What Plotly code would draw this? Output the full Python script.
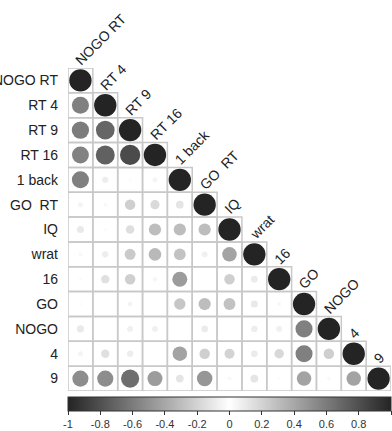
import plotly.graph_objects as go
import numpy as np

labels = ["NOGO RT", "RT 4", "RT 9", "RT 16", "1 back", "GO  RT", "IQ",
          "wrat", "16", "GO", "NOGO", "4", "9"]

# lower-triangle correlations (row i, columns 1..i-1); diagonal = 1
r_rt4 = [0.58]
r_rt9 = [0.60, 0.70]
r_rt16 = [0.57, 0.72, 0.82]
r_1back = [0.58, 0.08, 0.02, 0.05]
r_gort = [0.05, 0.03, 0.22, 0.17, 0.12]
r_iq = [0.10, 0.02, 0.15, 0.30, 0.30, 0.30]
r_wrat = [0.03, 0.08, 0.24, 0.32, 0.28, 0.07, 0.42]
r_16 = [0.02, 0.14, 0.22, 0.04, 0.45, 0.01, 0.22, 0.09]
r_go = [0.02, 0.01, 0.05, 0.01, 0.26, 0.30, 0.28, 0.10, 0.03]
r_nogo = [0.10, 0.0, 0.07, 0.07, 0.01, 0.09, 0.0, 0.08, 0.07, 0.58]
r_4 = [0.05, 0.14, 0.08, 0.0, 0.42, 0.22, 0.20, 0.09, 0.18, 0.58, 0.22]
r_9 = [0.52, 0.52, 0.66, 0.45, 0.12, 0.48, 0.03, 0.12, 0.02, 0.42, 0.03, 0.42]

rows = [[], r_rt4, r_rt9, r_rt16, r_1back, r_gort, r_iq, r_wrat, r_16,
        r_go, r_nogo, r_4, r_9]

cbar_ticks = [-1, -0.8, -0.6, -0.4, -0.2, 0, 0.2, 0.4, 0.6, 0.8, 1]

n = len(labels)
W, H = 392, 431
ML, MR, MT, MB = 68, 1, 68, 40
cell_px = (W - ML - MR) / n

xs, ys, vals = [], [], []
for i, row in enumerate(rows, start=1):
    for j, v in enumerate(row + [1.0], start=1):
        xs.append(j)
        ys.append(i)
        vals.append(v)
vals = np.array(vals)
sizes = 0.9 * np.sqrt(np.abs(vals)) * cell_px

dark = "#242424"
cscale = [[0, dark], [0.5, "#ffffff"], [1, dark]]

fig = go.Figure()

shapes = []
for i in range(1, n + 1):
    for j in range(1, i + 1):
        shapes.append(dict(type="rect", xref="x", yref="y",
                           x0=j - 0.5, x1=j + 0.5, y0=i - 0.5, y1=i + 0.5,
                           line=dict(color="#c8c8c8", width=1.5),
                           fillcolor="rgba(0,0,0,0)", layer="below"))

fig.add_trace(go.Scatter(
    x=xs, y=ys, mode="markers",
    marker=dict(size=sizes, color=vals, colorscale=cscale, cmin=-1, cmax=1,
                line=dict(width=0), opacity=1,
                colorbar=dict(orientation="h", x=0.5, xanchor="center",
                              y=-0.018, yanchor="top", len=1, lenmode="fraction",
                              thickness=14, xpad=0, ypad=0,
                              outlinewidth=1, outlinecolor="#333",
                              ticks="outside", ticklen=4, tickcolor="#333",
                              tickvals=cbar_ticks,
                              ticktext=[f"{t:g}" for t in cbar_ticks],
                              tickfont=dict(size=11, color="#333"))),
    hoverinfo="skip", showlegend=False))

annotations = []
for j, lab in enumerate(labels, start=1):
    annotations.append(dict(x=j, y=j - 0.5, xref="x", yref="y", text=lab,
                            showarrow=False, textangle=-45,
                            xanchor="left", yanchor="bottom",
                            xshift=-11, yshift=-3,
                            font=dict(size=14, color="#222")))

fig.update_layout(
    width=W, height=H,
    margin=dict(l=ML, r=MR, t=MT, b=MB, autoexpand=False),
    paper_bgcolor="white", plot_bgcolor="white",
    font=dict(family="Liberation Sans, Arial, sans-serif"),
    shapes=shapes, annotations=annotations,
    xaxis=dict(range=[0.5, n + 0.5], showgrid=False, zeroline=False,
               showticklabels=False, showline=False, fixedrange=True,
               automargin=False),
    yaxis=dict(range=[n + 0.5, 0.5], showgrid=False, zeroline=False,
               tickvals=list(range(1, n + 1)), ticktext=labels,
               tickfont=dict(size=14, color="#222"), ticks="",
               ticklabelstandoff=9, showline=False, fixedrange=True,
               automargin=False),
)

fig.write_html("out.html")
